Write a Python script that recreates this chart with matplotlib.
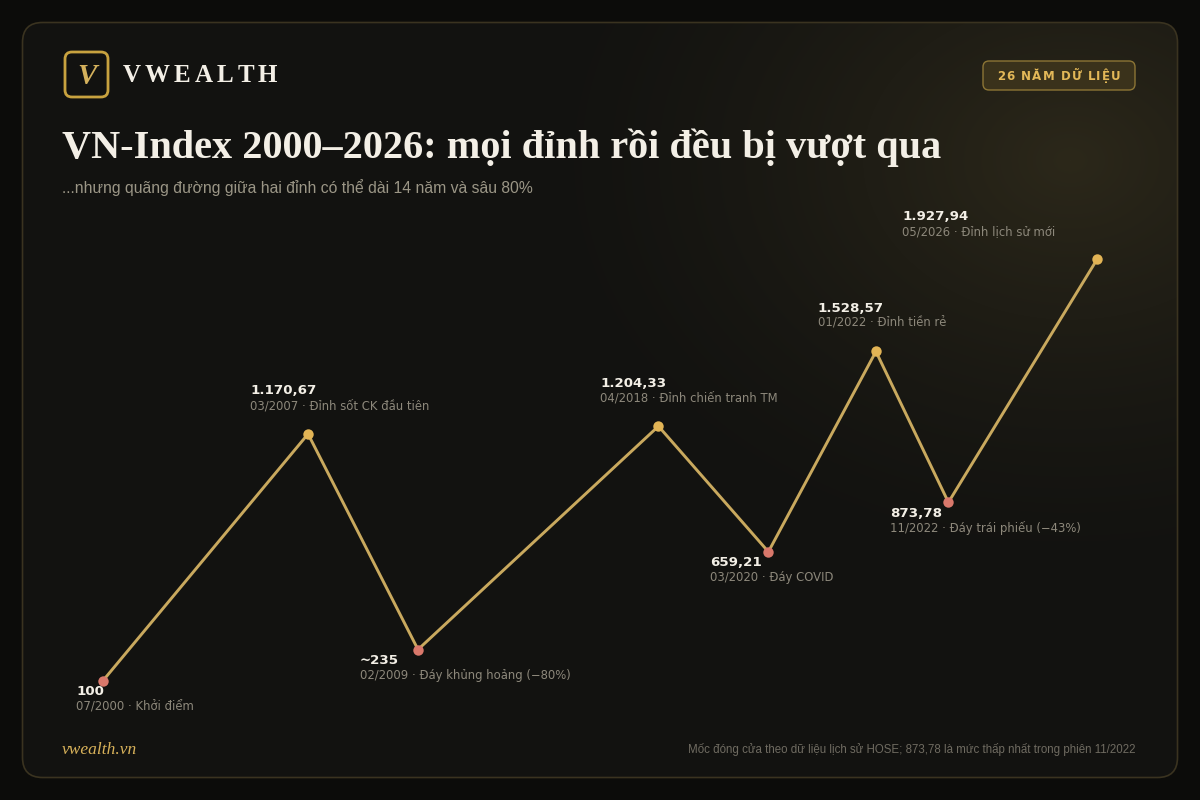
import matplotlib
matplotlib.use("Agg")
import matplotlib.pyplot as plt
import numpy as np
from matplotlib.patches import FancyBboxPatch

# ---------------- data ----------------
dates = ["07/2000", "03/2007", "02/2009", "04/2018", "03/2020", "01/2022", "11/2022", "05/2026"]
values = [100, 1170.67, 235, 1204.33, 659.21, 1528.57, 873.78, 1927.94]
value_labels = ["100", "1.170,67", "~235", "1.204,33", "659,21", "1.528,57", "873,78", "1.927,94"]
notes = ["Khởi điểm", "Đỉnh sốt CK đầu tiên", "Đáy khủng hoảng (−80%)", "Đỉnh chiến tranh TM",
         "Đáy COVID", "Đỉnh tiền rẻ", "Đáy trái phiếu (−43%)", "Đỉnh lịch sử mới"]
kinds = ["low", "peak", "low", "peak", "low", "peak", "low", "peak"]

title = "VN-Index 2000–2026: mọi đỉnh rồi đều bị vượt qua"
subtitle = "...nhưng quãng đường giữa hai đỉnh có thể dài 14 năm và sâu 80%"
badge = "26 NĂM DỮ LIỆU"
brand = "VWEALTH"
site = "vwealth.vn"
footnote = "Mốc đóng cửa theo dữ liệu lịch sử HOSE; 873,78 là mức thấp nhất trong phiên 11/2022"

# ---------------- style ----------------
BG = "#0c0c0a"
BORDER = "#3a3320"
GOLD = "#d8b25a"
LINE = "#c9a95e"
PEAK = "#e2b455"
LOW = "#d9786b"
WHITE = "#f3efe6"
GREY = "#8d887b"

W, H = 1200, 800
fig = plt.figure(figsize=(12, 8), dpi=100, facecolor=BG)

# background card with glow
bgax = fig.add_axes([0, 0, 1, 1], zorder=0)
bgax.set_xlim(0, W)
bgax.set_ylim(H, 0)
bgax.axis("off")
yy, xx = np.mgrid[0:H, 0:W]
d = np.sqrt(((xx - 1070) / 560.0) ** 2 + ((yy - 160) / 430.0) ** 2)
glow = np.clip(1 - d, 0, 1) ** 1.5
base = np.array([0x12, 0x12, 0x10]) / 255.0
gcol = np.array([0x2c, 0x28, 0x1a]) / 255.0
img = base[None, None, :] + glow[..., None] * (gcol - base)[None, None, :]
card = FancyBboxPatch((22.5, 22.5), 1155, 755, boxstyle="round,pad=0,rounding_size=20",
                      facecolor="none", edgecolor=BORDER, linewidth=1.2, zorder=3)
bgax.add_patch(card)
im = bgax.imshow(img, extent=[0, W, H, 0], zorder=1, interpolation="bilinear")
im.set_clip_path(card)

# logo
logo = FancyBboxPatch((65, 52), 43, 45, boxstyle="round,pad=0,rounding_size=7",
                      facecolor="none", edgecolor="#c8a23f", linewidth=2.0, zorder=4)
bgax.add_patch(logo)
bgax.text(86.5, 76, "V", color="#d4b15c", fontsize=21, family="Liberation Serif",
          style="italic", fontweight="bold", ha="center", va="center", zorder=5)

renderer = fig.canvas.get_renderer()
x = 123
for ch in brand:
    t = bgax.text(x, 76, ch, color=WHITE, fontsize=18, family="Liberation Serif",
                  fontweight="bold", ha="left", va="center", zorder=5)
    bb = t.get_window_extent(renderer=renderer)
    x += bb.width + 4.0

# badge
bp = FancyBboxPatch((983, 61), 152, 29, boxstyle="round,pad=0,rounding_size=6",
                    facecolor="#3a321b", edgecolor="#8c7535", linewidth=1.0, zorder=4)
bgax.add_patch(bp)
letters = []
for ch in badge:
    t = bgax.text(0, 76, ch, color="#e3b858", fontsize=8.5, family="DejaVu Sans",
                  fontweight="bold", ha="left", va="center", zorder=5)
    bb = t.get_window_extent(renderer=renderer)
    letters.append((t, bb.width))
gap = 1.1
total = sum(w for _, w in letters) + gap * (len(letters) - 1)
x = 1059 - total / 2
for t, w in letters:
    t.set_x(x)
    x += w + gap

# title and subtitle
bgax.text(62, 148, title, color=WHITE, fontsize=29, family="Liberation Serif",
          fontweight="bold", ha="left", va="center", zorder=5)
bgax.text(62, 188, subtitle, color="#9b9686", fontsize=11.3, family="Liberation Sans",
          ha="left", va="center", zorder=5)

# footer
bgax.text(62, 750, site, color=GOLD, fontsize=12.5, family="Liberation Serif",
          style="italic", ha="left", va="center", zorder=5)
bgax.text(1135, 749, footnote, color="#6f6b61", fontsize=8.3, family="Liberation Sans",
          ha="right", va="center", zorder=5)

# ---------------- chart ----------------
def to_year(s):
    m, y = s.split("/")
    return int(y) + (int(m) - 1) / 12.0

years = np.array([to_year(s) for s in dates])
v = np.array(values, dtype=float)
# compressed timeline: spacing grows with the square root of the time gap
u = np.concatenate([[0.0], np.cumsum(np.sqrt(np.diff(years)))])

ax = fig.add_axes([0, 0, 1, 1], zorder=2)
ax.patch.set_alpha(0)
ax.axis("off")
s = (1097 - 103) / u[-1]
ax.set_xlim(-103 / s, (W - 103) / s)
ax.set_ylim(-418, 3054)

ax.plot(u, v, color=LINE, linewidth=2.1, solid_joinstyle="miter", zorder=3)
for ui, vi, k in zip(u, v, kinds):
    ax.plot([ui], [vi], marker="o", markersize=7.5, color=PEAK if k == "peak" else LOW,
            markeredgewidth=0, zorder=4)

for i, (ui, vi, lab, d_, note, k) in enumerate(zip(u, v, value_labels, dates, notes, kinds)):
    dx = -58
    if i == 0:
        dx = -27
    elif i == len(u) - 1:
        dx = -195
    if k == "peak":
        dy1, dy2 = 43, 28
    else:
        dy1, dy2 = -11, -26
    ax.annotate(lab, (ui, vi), xytext=(dx, dy1), textcoords="offset pixels",
                color=WHITE, fontsize=9.6, family="DejaVu Sans", fontweight="bold",
                ha="left", va="center", zorder=5)
    ax.annotate(f"{d_} · {note}", (ui, vi), xytext=(dx, dy2), textcoords="offset pixels",
                color=GREY, fontsize=8.4, family="DejaVu Sans",
                ha="left", va="center", zorder=5)

fig.savefig("out.png", dpi=100, facecolor=BG)
